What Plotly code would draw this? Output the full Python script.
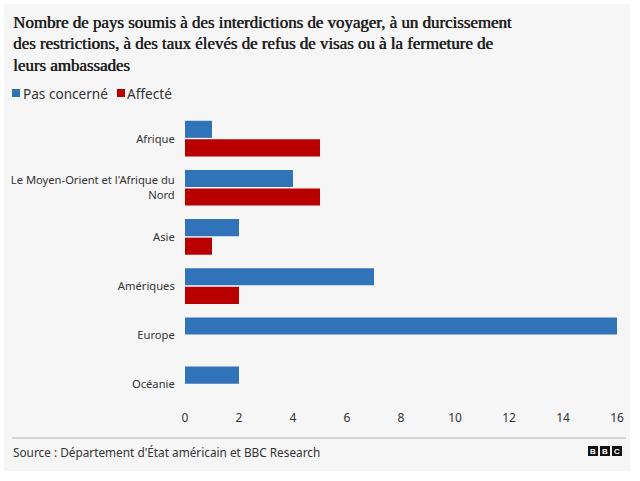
import plotly.graph_objects as go

categories = ["Afrique", "Le Moyen-Orient et l'Afrique du<br>Nord", "Asie", "Amériques", "Europe", "Océanie"]
pas_concerne = [1, 4, 2, 7, 16, 2]
affecte = [5, 5, 1, 2, 0, 0]
x_ticks = [0, 2, 4, 6, 8, 10, 12, 14, 16]

BLUE = "#3173b8"
RED = "#b80000"
TXT = "#333333"
W, H = 640, 481
L, R, T, B = 185, 23, 114, 72
PW, PH = W - L - R, H - T - B

def px(x):
    return (x - L) / PW

def py(y):
    return (H - B - y) / PH

fig = go.Figure()
fig.add_trace(go.Bar(y=categories, x=pas_concerne, orientation="h", name="Pas concerné",
                     marker=dict(color=BLUE, line=dict(width=0)), hoverinfo="skip"))
fig.add_trace(go.Bar(y=categories, x=affecte, orientation="h", name="Affecté",
                     marker=dict(color=RED, line=dict(width=0)), hoverinfo="skip"))

shapes = [
    dict(type="rect", xref="paper", yref="paper", x0=px(4), x1=px(630), y0=py(471), y1=py(4),
         fillcolor="#f6f6f6", line=dict(width=0), layer="below"),
    dict(type="line", xref="paper", yref="paper", x0=px(12), x1=px(626), y0=py(438), y1=py(438),
         line=dict(color="#b5b5b5", width=1)),
    dict(type="rect", xref="paper", yref="paper", x0=px(12), x1=px(20), y0=py(97), y1=py(89),
         fillcolor=BLUE, line=dict(width=0)),
    dict(type="rect", xref="paper", yref="paper", x0=px(117), x1=px(125), y0=py(97), y1=py(89),
         fillcolor=RED, line=dict(width=0)),
]
annotations = []
title_lines = [
    "Nombre de pays soumis à des interdictions de voyager, à un durcissement",
    "des restrictions, à des taux élevés de refus de visas ou à la fermeture de",
    "leurs ambassades",
]
for i, line in enumerate(title_lines):
    annotations.append(dict(text=line, xref="paper", yref="paper", x=px(11), y=py(22 + 22 * i),
                            xanchor="left", yanchor="middle", showarrow=False,
                            font=dict(family="Liberation Serif", size=16.9, color="#1e1e1e",
                                      shadow="0.6px 0px 0px #1e1e1e")))
annotations.append(dict(text="Pas concerné", xref="paper", yref="paper", x=px(21), y=py(93),
                        xanchor="left", yanchor="middle", showarrow=False,
                        font=dict(family="Noto Sans", size=13.6, color=TXT)))
annotations.append(dict(text="Affecté", xref="paper", yref="paper", x=px(125), y=py(93),
                        xanchor="left", yanchor="middle", showarrow=False,
                        font=dict(family="Noto Sans", size=13.6, color=TXT)))
annotations.append(dict(text="Source : Département d'État américain et BBC Research", xref="paper", yref="paper",
                        x=px(11), y=py(452), xanchor="left", yanchor="middle", showarrow=False,
                        font=dict(family="Noto Sans", size=11.8, color=TXT)))
for i, letter in enumerate("BBC"):
    x0 = 588 + 12 * i
    shapes.append(dict(type="rect", xref="paper", yref="paper", x0=px(x0), x1=px(x0 + 10), y0=py(456), y1=py(446),
                       fillcolor="#111111", line=dict(width=0)))
    annotations.append(dict(text="<b>" + letter + "</b>", xref="paper", yref="paper", x=px(x0 + 5), y=py(451),
                            xanchor="center", yanchor="middle", showarrow=False,
                            font=dict(family="Liberation Sans", size=8, color="white")))

fig.update_layout(
    width=W, height=H,
    margin=dict(l=L, r=R, t=T, b=B, pad=0, autoexpand=False),
    paper_bgcolor="white", plot_bgcolor="rgba(0,0,0,0)",
    barmode="group", bargap=0.245, bargroupgap=0.08,
    showlegend=False,
    shapes=shapes, annotations=annotations,
    font=dict(family="Noto Sans", size=12, color=TXT),
)
fig.update_xaxes(range=[0, 16], tickvals=x_ticks, showgrid=False, zeroline=False, showline=False,
                 ticks="", fixedrange=True, automargin=False,
                 tickfont=dict(size=12, color=TXT))
fig.update_yaxes(autorange="reversed", showgrid=False, zeroline=False, showline=False,
                 ticks="outside", ticklen=7, tickcolor="rgba(0,0,0,0)", fixedrange=True, automargin=False,
                 tickfont=dict(size=11.2, color=TXT))

fig.write_html("out.html", config=dict(displayModeBar=False))
